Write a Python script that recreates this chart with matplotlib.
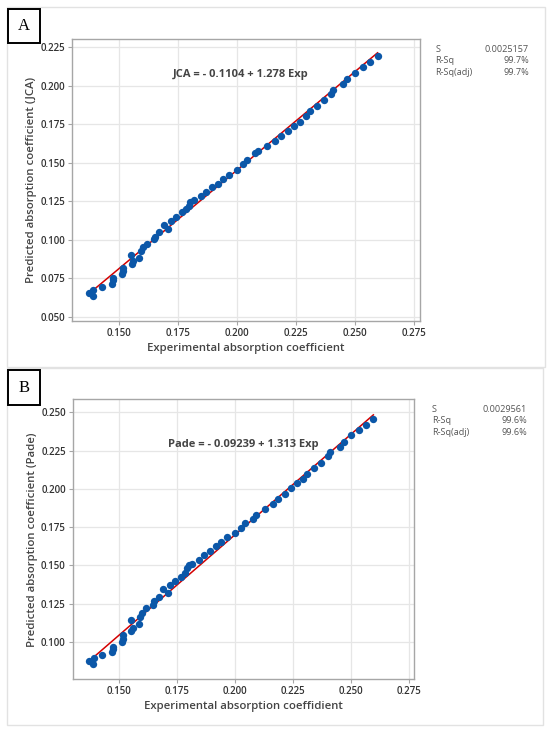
import numpy as np
import matplotlib
matplotlib.use("Agg")
import matplotlib.pyplot as plt
from matplotlib.patches import Rectangle

plt.rcParams['font.family'] = ['Open Sans', 'DejaVu Sans']

# Valori sperimentali (comuni ai due pannelli)
exp_vals = [0.1370, 0.1389, 0.1391, 0.1427, 0.1470, 0.1472, 0.1475, 0.1512, 0.1515, 0.1518,
            0.1550, 0.1553, 0.1560, 0.1586, 0.1592, 0.1600, 0.1617, 0.1648, 0.1650, 0.1670,
            0.1688, 0.1709, 0.1719, 0.1740, 0.1766, 0.1784, 0.1794, 0.1802, 0.1815, 0.1846,
            0.1867, 0.1893, 0.1918, 0.1938, 0.1966, 0.1999, 0.2023, 0.2041, 0.2076, 0.2088,
            0.2128, 0.2161, 0.2185, 0.2215, 0.2242, 0.2267, 0.2292, 0.2309, 0.2340, 0.2370,
            0.2398, 0.2408, 0.2450, 0.2467, 0.2499, 0.2533, 0.2563, 0.2595]

# Valori predetti JCA
jca_vals = [0.0654, 0.0632, 0.0673, 0.0695, 0.0713, 0.0735, 0.0749, 0.0777, 0.0795, 0.0814,
            0.0903, 0.0842, 0.0864, 0.0881, 0.0929, 0.0950, 0.0974, 0.1003, 0.1018, 0.1047,
            0.1097, 0.1069, 0.1123, 0.1149, 0.1177, 0.1199, 0.1221, 0.1242, 0.1258, 0.1286,
            0.1312, 0.1340, 0.1362, 0.1394, 0.1422, 0.1452, 0.1488, 0.1518, 0.1560, 0.1578,
            0.1610, 0.1643, 0.1671, 0.1703, 0.1736, 0.1766, 0.1805, 0.1838, 0.1870, 0.1903,
            0.1942, 0.1972, 0.2011, 0.2044, 0.2080, 0.2119, 0.2151, 0.2192]

# Valori predetti Pade
pade_vals = [0.0876, 0.0854, 0.0894, 0.0915, 0.0937, 0.0954, 0.0969, 0.1000, 0.1020, 0.1046,
             0.1144, 0.1072, 0.1093, 0.1117, 0.1165, 0.1187, 0.1220, 0.1242, 0.1268, 0.1296,
             0.1344, 0.1318, 0.1372, 0.1398, 0.1422, 0.1452, 0.1481, 0.1500, 0.1509, 0.1535,
             0.1568, 0.1596, 0.1627, 0.1655, 0.1685, 0.1713, 0.1746, 0.1777, 0.1803, 0.1829,
             0.1868, 0.1901, 0.1933, 0.1966, 0.2003, 0.2040, 0.2064, 0.2097, 0.2134, 0.2166,
             0.2214, 0.2238, 0.2275, 0.2307, 0.2351, 0.2383, 0.2420, 0.2455]

# Coefficienti di regressione e statistiche
jca_coef = (-0.1104, 1.278)
pade_coef = (-0.09239, 1.313)
stat_names = ["S", "R-Sq", "R-Sq(adj)"]
jca_stats = ["0.0025157", "99.7%", "99.7%"]
pade_stats = ["0.0029561", "99.6%", "99.6%"]

x_ticks = [0.150, 0.175, 0.200, 0.225, 0.250, 0.275]
jca_yticks = [0.050, 0.075, 0.100, 0.125, 0.150, 0.175, 0.200, 0.225]
pade_yticks = [0.100, 0.125, 0.150, 0.175, 0.200, 0.225, 0.250]

W, H = 550, 733
fig = plt.figure(figsize=(5.5, 7.33), dpi=100)


def px(x0, y0, x1, y1):
    # da pixel a coordinate della figura
    return [x0 / W, 1 - y1 / H, (x1 - x0) / W, (y1 - y0) / H]


def pannello(rect, xs, ys, coef, nome, stats, yticks, xlim, ylim, ylabel, xlabel,
             eq_xy, stat_x0, stat_x1, stat_y, lettera, box, lbox):
    # cornice grigia del pannello
    bx = px(*box)
    fig.patches.append(Rectangle((bx[0], bx[1]), bx[2], bx[3], transform=fig.transFigure,
                                 fill=False, edgecolor='#e2e2e2', linewidth=1.0))
    ax = fig.add_axes(px(*rect))
    ax.set_xlim(*xlim)
    ax.set_ylim(*ylim)
    ax.set_xticks(x_ticks)
    ax.set_yticks(yticks)
    ax.set_xticklabels([f"{t:.3f}" for t in x_ticks])
    ax.set_yticklabels([f"{t:.3f}" for t in yticks])
    ax.grid(True, color='#e6e6e6', linewidth=0.9)
    ax.set_axisbelow(True)
    for s in ax.spines.values():
        s.set_color('#a6a6a6')
        s.set_linewidth(1.0)
    ax.tick_params(direction='out', length=3, width=0.8, color='#a6a6a6',
                   labelsize=7, labelcolor='#333333', pad=2)
    for lab in ax.get_xticklabels() + ax.get_yticklabels():
        lab.set_fontweight('semibold')

    xa = np.array(xs)
    ax.plot([xa.min(), xa.max()], [coef[0] + coef[1] * xa.min(), coef[0] + coef[1] * xa.max()],
            color='#d40000', linewidth=1.1, zorder=2)
    ax.scatter(xs, ys, s=28, color='#0b57a8', zorder=3, linewidths=0)

    ax.set_xlabel(xlabel, fontsize=8.2, color='#444444', fontweight='semibold', labelpad=3)
    ax.set_ylabel(ylabel, fontsize=8.2, color='#444444', fontweight='semibold', labelpad=2)

    segno = "-" if coef[0] < 0 else "+"
    eq = f"{nome} = {segno} {abs(coef[0]):g} + {coef[1]:g} Exp"
    fig.text(eq_xy[0] / W, 1 - eq_xy[1] / H, eq, fontsize=8, fontweight='bold',
             color='#444444', ha='left', va='center')

    for i, (n, v) in enumerate(zip(stat_names, stats)):
        yy = 1 - (stat_y + i * 11.8) / H
        fig.text(stat_x0 / W, yy, n, fontsize=6.6, color='#555555', ha='left', va='center')
        fig.text(stat_x1 / W, yy, v, fontsize=6.6, color='#555555', ha='right', va='center')

    lb = px(*lbox)
    fig.patches.append(Rectangle((lb[0], lb[1]), lb[2], lb[3], transform=fig.transFigure,
                                 facecolor='white', edgecolor='black', linewidth=1.4))
    fig.text(lb[0] + lb[2] / 2, lb[1] + lb[3] / 2, lettera, fontsize=12,
             family='Liberation Serif', ha='center', va='center', color='black')
    return ax


pannello((72, 38.7, 420, 320.7), exp_vals, jca_vals, jca_coef, "JCA", jca_stats,
         jca_yticks, (0.130, 0.2775), (0.0474, 0.2304),
         "Predicted absorption coefficient (JCA)", "Experimental absorption coefficient",
         (173, 74), 435.5, 529, 49, "A", (7, 7, 545, 367), (7.5, 9.5, 40, 43))

pannello((72.7, 399.3, 414, 679.3), exp_vals, pade_vals, pade_coef, "Pade", pade_stats,
         pade_yticks, (0.130, 0.277), (0.0757, 0.2585),
         "Predicted absorption coefficient (Pade)", "Experimental absorption coeffidient",
         (168, 445), 432, 527, 409, "B", (7, 368, 543, 725), (7.5, 370, 40, 405))

fig.savefig("out.png", dpi=100)
